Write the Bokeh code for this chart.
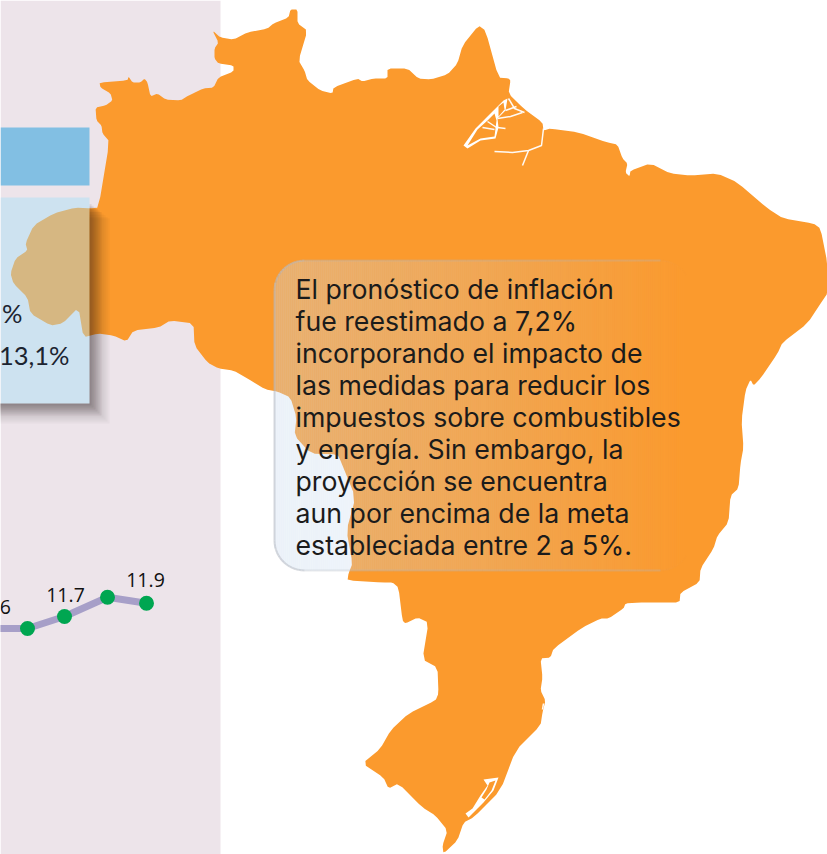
from bokeh.plotting import figure
from bokeh.models import Range1d
from bokeh.core.properties import value
from bokeh.embed import file_html
from bokeh.resources import INLINE
import math

W, H = 827, 854

map_outline = [
 (98,207),(109,141),(102,133),(101,125),(96,120),(95,107),(105,105),(112,100),(110,93),(100,87),(99,82),
 (127,80),(128,76),(132,82),(140,82),(144,78),(147,82),(150,96),(157,93),(165,99),(180,100),(188,95),
 (203,88),(213,87),(218,77),(233,71),(233,65),(218,63),(214,58),(214,48),(218,42),(212,30),(220,37),
 (233,39),(247,32),(267,28),(273,23),(288,17),(290,9),(297,9),(297,23),(307,30),(298,60),(304,70),
 (307,80),(320,90),(332,93),(333,87),(357,78),(362,81),(373,78),(387,78),(387,68),(407,68),(418,78),
 (430,79),(447,74),(457,63),(462,45),(478,25),(485,30),(498,77),(508,78),(510,80),(508,93),(523,108),
 (542,122),(543,130),(550,128),(578,132),(607,142),(617,144),(622,158),(627,163),(625,172),(629,176),
 (630,170),(650,163),(670,173),(690,175),(717,173),(737,182),(767,208),(783,218),(813,223),(820,228),
 (827,263),(827,293),(822,300),(807,323),(782,342),(777,353),(760,378),(753,385),(750,379),(745,390),
 (741,420),(743,447),(740,463),(738,488),(730,495),(728,522),(717,535),(713,548),(700,568),(699,582),
 (680,592),(679,602),(657,602),(638,602),(625,603),(623,608),(608,618),(600,618),(582,627),(553,648),
 (550,657),(540,658),(542,677),(540,690),(545,700),(542,712),(540,725),(515,750),(500,790),(473,817),
 (463,822),(457,840),(443,853),(442,845),(447,830),(435,815),(422,807),(398,783),(388,788),(383,777),
 (362,763),(380,748),(390,730),(408,713),(435,700),(438,693),(437,667),(422,659),(428,622),(417,617),
 (405,623),(402,620),(398,587),(392,582),(383,582),(347,580),(348,573),(352,563),(346,530),(355,497),
 (340,460),(337,454),(310,453),(294,435),(296,417),(290,397),(277,391),(265,389),(247,378),(233,370),
 (218,368),(207,362),(194,345),(193,323),(170,320),(158,327),(133,330),(126,341),(113,335),(97,333),
 (83,337),(78,307),(62,323),(50,325),(30,313),(27,297),(13,283),(10,273),(15,258),(27,250),(25,243),
 (33,225),(53,213),(75,207),(90,208),
]
delta_white = [(507,98),(505,110),(497,118),(498,127),(495,138),(480,140),(467,148),(463,145),(475,128),(485,118),(493,110),(503,100)]
delta_islands = [
 [(467,145),(477,129),(487,120),(494,113),(496,120),(494,136),(480,138)],
 [(498,106),(503,102),(504,109),(498,116)],
]
channels = [
 [(543,128),(541,145),(528,150),(512,152),(494,151)],
 [(528,150),(522,165)],
 [(508,98),(514,108),(524,112)],
 [(505,110),(516,106)],
 [(497,118),(510,116),(522,112)],
 [(497,127),(505,128)],
 [(487,121),(496,127)],
 [(482,127),(494,129)],
 [(543,703),(542,709)],
]
lagoon = [(483,779),(498,777),(493,790),(483,802),(468,817),(465,813),(472,808),(480,795),(487,785)]
lagoon_island = [(489,782),(495,780),(491,790),(484,799),(481,797),(486,789)]

labels_x = [-12, 27, 64, 107, 146]
line_values = [11.5, 11.5, 11.7, 12.02, 11.92]
line_labels = {-12: "11.6", 64: "11.7", 146: "11.9"}

note_lines = [
 "El pronóstico de inflación",
 "fue reestimado a 7,2%",
 "incorporando el impacto de",
 "las medidas para reducir los",
 "impuestos sobre combustibles",
 "y energía. Sin embargo, la",
 "proyección se encuentra",
 "aun por encima de la meta",
 "estableciada entre 2 a 5%.",
]

def soften(pts, r=0.16):
    out = []
    n = len(pts)
    for i in range(n):
        (x0, y0), (x1, y1) = pts[i], pts[(i + 1) % n]
        out.append((x0 + r * (x1 - x0), y0 + r * (y1 - y0)))
        out.append((x1 - r * (x1 - x0), y1 - r * (y1 - y0)))
    return out

p = figure(width=W, height=H, output_backend="svg", toolbar_location=None,
           x_range=Range1d(0, W), y_range=Range1d(H, 0),
           x_axis_location=None, y_axis_location=None, min_border=0)
p.grid.visible = False
p.outline_line_color = None
p.background_fill_color = "white"
p.border_fill_color = "white"
p.extra_y_ranges = {"pct": Range1d(7.733, 21.967)}

p.quad(left=[0], right=[220], top=[0], bottom=[H], fill_color="#EDE4EA", line_color=None)

soft = soften(map_outline)
p.patch([a for a, b in soft], [b for a, b in soft], fill_color="#FB9A2D", line_color=None)
p.patch([a for a, b in delta_white], [b for a, b in delta_white], fill_color="white", line_color=None)
for isl in delta_islands:
    p.patch([a for a, b in isl], [b for a, b in isl], fill_color="#FB9A2D", line_color=None)
p.patch([a for a, b in lagoon], [b for a, b in lagoon], fill_color="white", line_color=None)
p.patch([a for a, b in lagoon_island], [b for a, b in lagoon_island], fill_color="#FB9A2D", line_color=None)
p.multi_line([[a for a, b in c] for c in channels], [[b for a, b in c] for c in channels],
             line_color="white", line_width=1.5, line_alpha=0.95)

PX, PT, PB = 89, 197, 403
for d in range(2, 22, 2):
    a = 0.07 if d < 14 else 0.03
    top = 202 + d * 0.8
    xs = [PX, PX + d, PX + d, -5, -5, PX]
    ys = [top, top, PB + d, PB + d, PB, PB]
    p.patch(xs, ys, fill_color="#1a1414", fill_alpha=a, line_color=None)

p.quad(left=[0], right=[PX], top=[PT], bottom=[PB], fill_color="#A3DFF8", fill_alpha=0.42, line_color=None)
p.quad(left=[0], right=[PX], top=[127], bottom=[185], fill_color="#82BFE3", line_color=None)

p.text(x=[22], y=[312], text=["%"], text_align="right", text_baseline="alphabetic",
       text_font=value("Lato"), text_font_size="25.5px", text_color="#1c2430")
p.text(x=[69], y=[354], text=["13,1%"], text_align="right", text_baseline="alphabetic",
       text_font=value("Lato"), text_font_size="25.5px", text_color="#1c2430")

p.line(labels_x, line_values, y_range_name="pct", line_color="#A79FC8", line_width=7)
p.scatter(labels_x, line_values, y_range_name="pct", size=15, marker="circle", fill_color="#00A651", line_color=None)
for xv, t in line_labels.items():
    yv = line_values[labels_x.index(xv)]
    dy = {"11.6": 21, "11.7": 21, "11.9": 23}[t]
    p.text(x=[xv + {"11.6": 3, "11.7": 1, "11.9": -1}[t]], y=[yv], text=[t], y_range_name="pct", y_offset=-dy,
           text_align="center", text_baseline="alphabetic", text_font=value("Open Sans"),
           text_font_size="19.5px", text_color="#111111")

BL, BR, BT, BB, R = 274, 690, 260, 570, 30
def fade(c):
    t = (c - BL) / (BR - BL)
    return max(0.0, 0.38 * (1 - t ** 1.15))
xs0, xs1, tops, bots, alphas = [], [], [], [], []
for x in range(BL, BR, 2):
    c = x + 1
    inset = 0.0
    if c < BL + R:
        inset = R - (R ** 2 - (BL + R - c) ** 2) ** 0.5
    elif c > BR - R:
        inset = R - (R ** 2 - (c - BR + R) ** 2) ** 0.5
    xs0.append(x); xs1.append(x + 2)
    tops.append(BT + inset); bots.append(BB - inset)
    alphas.append(fade(c))
p.quad(left=xs0, right=xs1, top=tops, bottom=bots, fill_color="#CADBEF", fill_alpha=alphas, line_color=None)

outline = []
for cx, cy, a0 in [(BR - R, BT + R, -90), (BR - R, BB - R, 0), (BL + R, BB - R, 90), (BL + R, BT + R, 180)]:
    for k in range(0, 91, 6):
        ang = math.radians(a0 + k)
        outline.append((cx + R * math.cos(ang), cy + R * math.sin(ang)))
segs_x, segs_y, seg_a = [], [], []
for i in range(len(outline)):
    (x0, y0), (x1, y1) = outline[i], outline[(i + 1) % len(outline)]
    n = max(1, int(abs(x1 - x0) // 8))
    for j in range(n):
        segs_x.append([x0 + (x1 - x0) * j / n, x0 + (x1 - x0) * (j + 1) / n])
        segs_y.append([y0 + (y1 - y0) * j / n, y0 + (y1 - y0) * (j + 1) / n])
        seg_a.append(min(0.6, fade((x0 + x1) / 2) * 1.5))
p.multi_line(segs_x, segs_y, line_color="#B4B9C2", line_width=2, line_alpha=seg_a)

for i, line in enumerate(note_lines):
    p.text(x=[295], y=[288 + i * 32], text=[line], text_baseline="alphabetic",
           text_font=value("Inter"), text_font_size="26.7px", text_color="#1b1b1b")

html = file_html(p, INLINE).replace("<head>", "<head><style>html,body{margin:0;padding:0;overflow:hidden}</style>", 1)
open("out.html", "w").write(html)
